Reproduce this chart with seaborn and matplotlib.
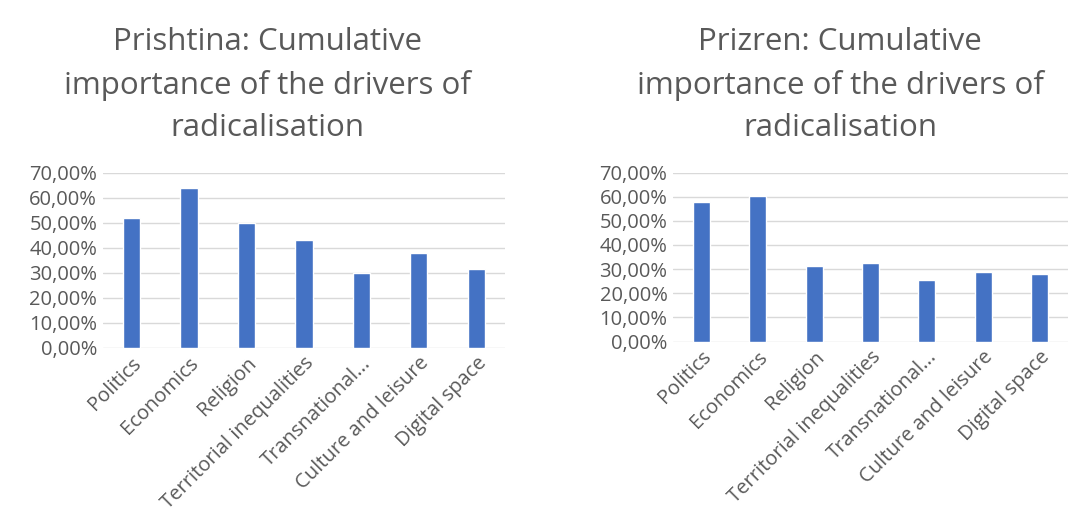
import pandas as pd
import matplotlib.pyplot as plt
import seaborn as sns
from matplotlib.ticker import FuncFormatter, MultipleLocator

# Drivers of radicalisation (share, %)
drivers = ['Politics', 'Economics', 'Religion', 'Territorial inequalities',
           'Transnational...', 'Culture and leisure', 'Digital space']
prishtina = [51.7, 64.0, 49.7, 43.2, 29.9, 37.7, 31.5]
prizren = [57.7, 60.2, 31.4, 32.5, 25.6, 28.7, 28.0]

titles = ['Prishtina: Cumulative\nimportance of the drivers of\nradicalisation',
          'Prizren: Cumulative\nimportance of the drivers of\nradicalisation']

sns.set_style('white')
plt.rcParams['font.family'] = ['Open Sans', 'DejaVu Sans']

BAR = '#4472C4'
TXT = '#595959'
GRID = '#D9D9D9'

fig = plt.figure(figsize=(10.7, 5.23), dpi=100)
ax_pos = [[0.096, 0.335, 0.376, 0.335], [0.629, 0.347, 0.369, 0.323]]
title_x = [0.25, 0.785]

for pos, vals, title, tx in zip(ax_pos, [prishtina, prizren], titles, title_x):
    ax = fig.add_axes(pos)
    df = pd.DataFrame({'driver': drivers, 'value': vals})
    sns.barplot(data=df, x='driver', y='value', color=BAR, width=0.3,
                saturation=1, ax=ax)
    ax.set_ylim(0, 70)
    ax.yaxis.set_major_locator(MultipleLocator(10))
    ax.yaxis.set_major_formatter(FuncFormatter(lambda v, p: f'{v:.2f}%'.replace('.', ',')))
    ax.grid(axis='y', color=GRID, linewidth=1)
    ax.set_axisbelow(True)
    for s in ax.spines.values():
        s.set_visible(False)
    ax.set_xlabel('')
    ax.set_ylabel('')
    ax.tick_params(axis='both', length=0, colors=TXT, labelsize=14.5, pad=4)
    ax.set_xticks(range(len(drivers)))
    ax.set_xticklabels(drivers, rotation=45, ha='right', rotation_mode='anchor')
    fig.text(tx, 0.948, title, ha='center', va='top', fontsize=22.5,
             color=TXT, linespacing=1.52)

plt.savefig('out.png', dpi=100)
plt.close()
